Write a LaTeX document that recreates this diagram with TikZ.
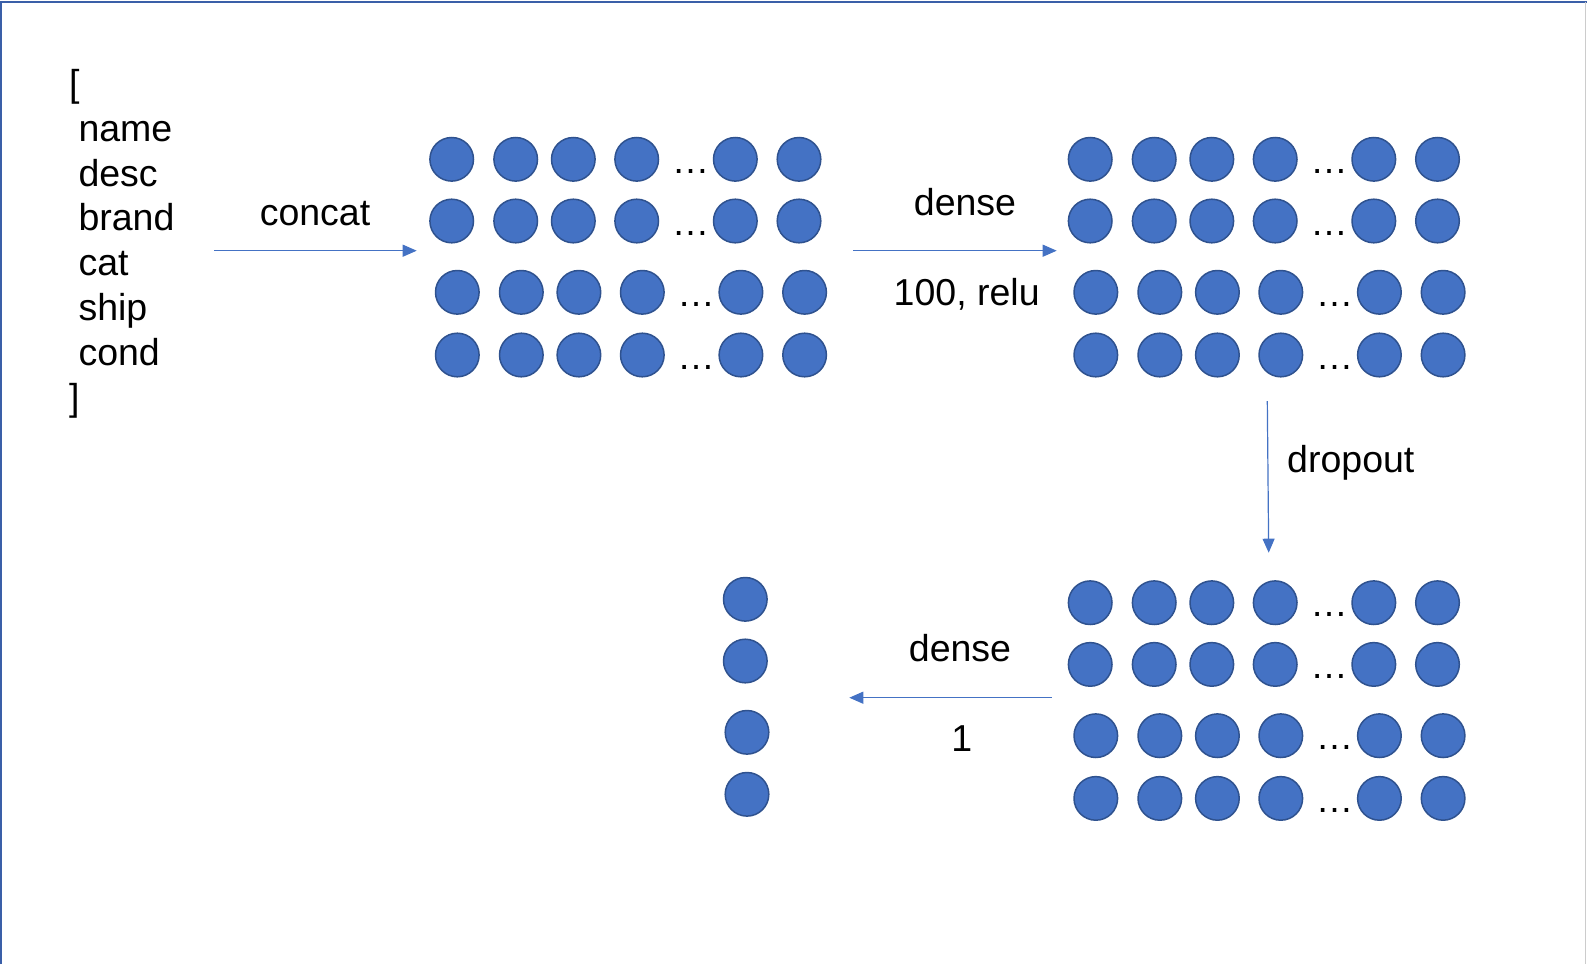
\documentclass[tikz,border=0pt]{standalone}
\usepackage{fontspec}
\setmainfont{Liberation Sans}
\usetikzlibrary{arrows.meta}
\definecolor{nfill}{HTML}{4472C4}
\definecolor{nedge}{HTML}{2F528F}
\definecolor{frame}{HTML}{3A5FA8}
\begin{document}
\begin{tikzpicture}[x=1pt,y=-1pt,
  neuron/.style={circle, fill=nfill, draw=nedge, line width=1.5pt, minimum size=43.6pt, inner sep=0pt},
  lbl/.style={font=\fontsize{37.5}{45}\selectfont, inner sep=0pt, text=black},
  dots/.style={lbl, anchor=base},
  conn/.style={draw=nfill, line width=1.2pt, -{Triangle[length=14pt,width=12pt]}}]
\useasboundingbox (0,0) rectangle (1587,964);
\fill[white] (0,0) rectangle (1587,964);
% frame
\draw[frame, line width=2pt] (1,964) -- (1,1.5) -- (1587,1.5);
\draw[gray!40, line width=1pt] (1585.5,1.5) -- (1585.5,964);

% input list
\node[lbl, anchor=base west] (l0) at (69,96.5) {[};
\node[lbl, anchor=base west] (l1) at (78.3,141.3) {name};
\node[lbl, anchor=base west] (l2) at (78.3,186.1) {desc};
\node[lbl, anchor=base west] (l3) at (78.3,230.9) {brand};
\node[lbl, anchor=base west] (l4) at (78.3,275.7) {cat};
\node[lbl, anchor=base west] (l5) at (78.3,320.5) {ship};
\node[lbl, anchor=base west] (l6) at (78.3,365.3) {cond};
\node[lbl, anchor=base west] (l7) at (69,410.1) {]};

% neuron matrices
\foreach \m/\dx/\dy in {1/0/0, 2/638.5/0, 3/638.5/443.4} {
  \foreach \r/\y/\s in {1/159.3/0, 2/221/0, 3/292.3/5.6, 4/355/5.6} {
    \foreach \c/\x in {1/451.7, 2/515.7, 3/573.3, 4/636.7, 5/735.3, 6/799} {
      \node[neuron] (m\m-\r-\c) at (\x+\s+\dx, \y+\dy) {};
    }
    \node[dots] (d\m-\r) at (690.5+\s+\dx, \y+14+\dy) {…};
  }
}

% output column
\node[neuron] (o1) at (745.3,599.3) {};
\node[neuron] (o2) at (745.3,661) {};
\node[neuron] (o3) at (747,732.3) {};
\node[neuron] (o4) at (747,794.3) {};

% connector ends
\coordinate (a1s) at (214,250.7);
\coordinate (a1e) at (416.7,250.7);
\coordinate (a2s) at (853.3,250.7);
\coordinate (a2e) at (1056.7,250.7);
\coordinate (a3s) at (1267.3,401);
\coordinate (a3e) at (1268.7,552.7);
\coordinate (a4s) at (1051.7,697.7);
\coordinate (a4e) at (849.3,697.7);

\draw[conn] (a1s) -- (a1e);
\draw[conn] (a2s) -- (a2e);
\draw[conn] (a3s) -- (a3e);
\draw[conn] (a4s) -- (a4e);

% labels
\node[lbl, anchor=base] (t1) at (315,225) {concat};
\node[lbl, anchor=base] (t2) at (965,215) {dense};
\node[lbl, anchor=base] (t3) at (966.7,305) {100, relu};
\node[lbl, anchor=base west] (t4) at (1287,472.7) {dropout};
\node[lbl, anchor=base] (t5) at (960,661.7) {dense};
\node[lbl, anchor=base] (t6) at (961.7,751.7) {1};
\end{tikzpicture}
\end{document}
